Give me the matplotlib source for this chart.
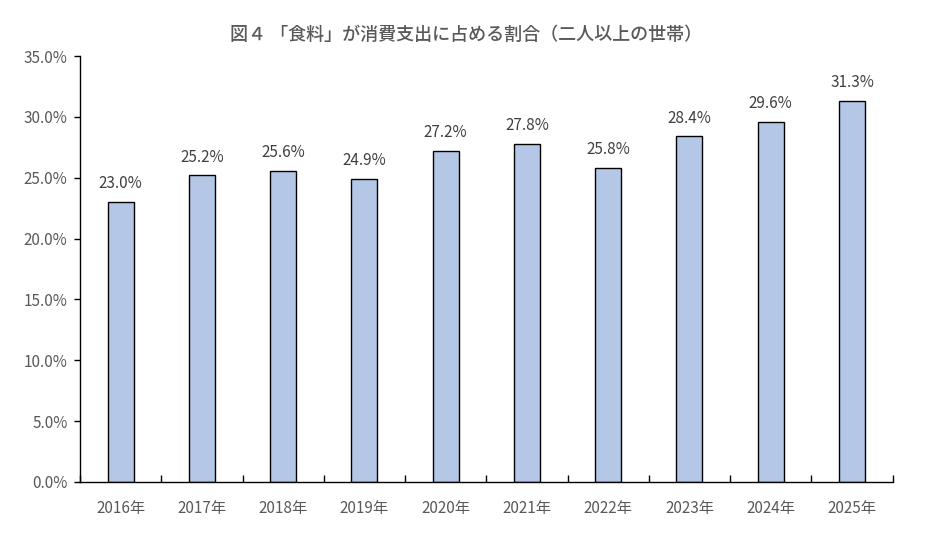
import matplotlib
matplotlib.use("Agg")
import matplotlib.pyplot as plt
from matplotlib.ticker import FixedLocator, NullFormatter

plt.rcParams['font.family'] = ['Noto Sans CJK JP', 'DejaVu Sans']

years = ["2016年", "2017年", "2018年", "2019年", "2020年", "2021年", "2022年", "2023年", "2024年", "2025年"]
values = [23.0, 25.2, 25.6, 24.9, 27.2, 27.8, 25.8, 28.4, 29.6, 31.3]
yticks = [0, 5, 10, 15, 20, 25, 30, 35]
title = "図４ 「食料」が消費支出に占める割合（二人以上の世帯）"

gray = "#595959"
fig = plt.figure(figsize=(9.32, 5.33), dpi=100)
ax = fig.add_axes([0.0858, 0.0957, 0.872, 0.799])

x = list(range(len(years)))
ax.bar(x, values, width=0.32, color="#B4C7E7", edgecolor="black", linewidth=1.0, zorder=2)
for xi, v in zip(x, values):
    ax.annotate(f"{v:.1f}%", (xi, v), xytext=(0, 7), textcoords="offset points",
                ha="center", va="bottom", fontsize=11, color="#404040")

ax.set_xlim(-0.5, len(years) - 0.5)
ax.set_ylim(0, 35)
ax.set_yticks(yticks)
ax.set_yticklabels([f"{t:.1f}%" for t in yticks], fontsize=11, color=gray)
ax.tick_params(axis="y", direction="out", length=4, width=1, color="black", pad=5)

ax.set_xticks(x)
ax.set_xticklabels(years, fontsize=11, color=gray)
ax.tick_params(axis="x", which="major", length=0, pad=13)
ax.xaxis.set_minor_locator(FixedLocator([i + 0.5 for i in range(-1, len(years))]))
ax.xaxis.set_minor_formatter(NullFormatter())
ax.tick_params(axis="x", which="minor", direction="in", length=5, width=1, color="black")

for s in ["top", "right"]:
    ax.spines[s].set_visible(False)
for s in ["left", "bottom"]:
    ax.spines[s].set_color("black")
    ax.spines[s].set_linewidth(1.0)

fig.text(0.5, 0.935, title, ha="center", va="center", fontsize=13, color=gray, fontweight="medium")

fig.savefig("out.png", dpi=100)
